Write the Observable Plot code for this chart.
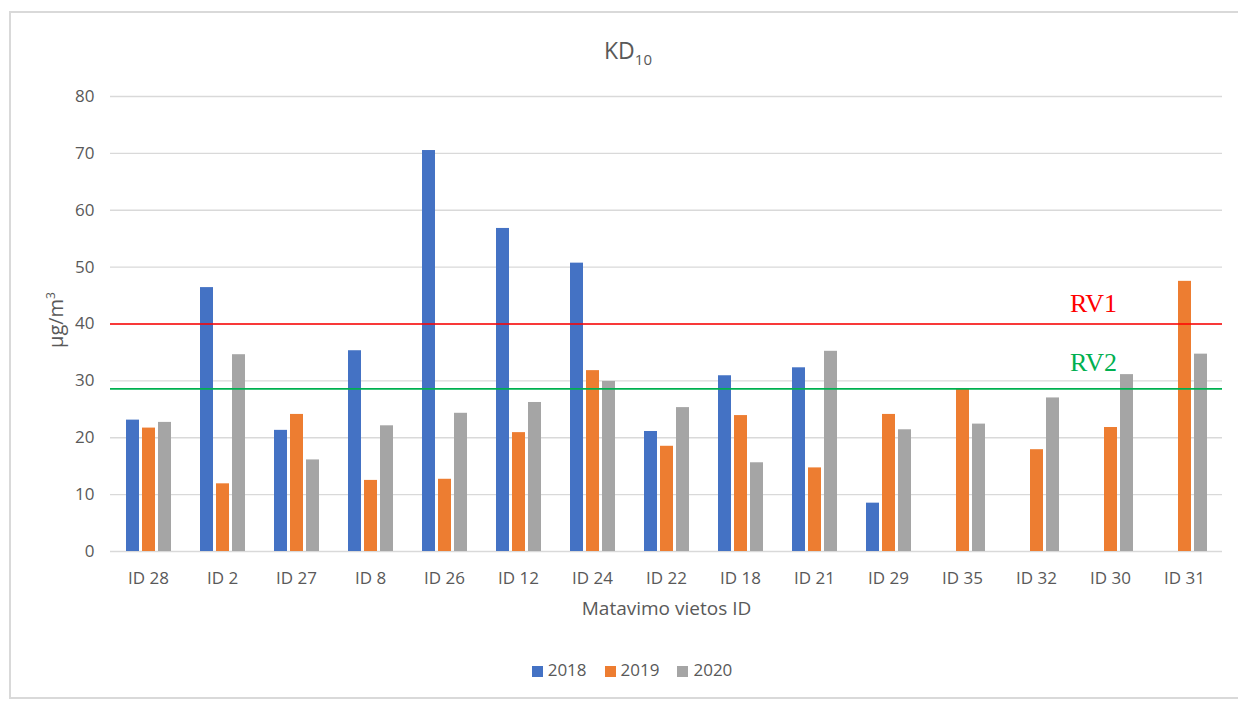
<!DOCTYPE html>
<html>
<head>
<meta charset="utf-8">
<script src="https://cdn.jsdelivr.net/npm/d3@7"></script>
<script src="https://cdn.jsdelivr.net/npm/@observablehq/plot@0.6"></script>
<style>
  html, body { margin: 0; padding: 0; background: #fff; }
  #wrap { position: relative; width: 1238px; height: 702px; overflow: hidden; font-family: "Open Sans", "Noto Sans", sans-serif; color: #595959; }
  #frame { position: absolute; left: 9px; top: 11px; width: 1260px; height: 688px; border: 2px solid #d9d9d9; box-sizing: border-box; }
  #title { position: absolute; left: 0; width: 1256px; top: 34px; text-align: center; font-size: 23px; color: #595959; }
  #title sub { font-size: 15px; }
  #ylabel { position: absolute; left: 55px; top: 320px; transform: translate(-50%, -50%) rotate(-90deg); font-size: 20px; color: #595959; white-space: nowrap; }
  #ylabel sup { font-size: 12px; }
  .layer { position: absolute; left: 0; top: 0; }
  #legend { position: absolute; top: 658px; left: 0; width: 1264px; text-align: center; font-size: 17px; color: #595959; }
  #legend span.item { margin: 0 9px; }
  #legend span.sw { display: inline-block; width: 11px; height: 11px; margin-right: 5px; vertical-align: -1px; }
</style>
</head>
<body>
<div id="wrap">
  <div id="frame"></div>
  <div id="under" class="layer"></div>
  <div id="bars" class="layer"></div>
  <div id="over" class="layer"></div>
  <div id="title">KD<sub>10</sub></div>
  <div id="ylabel">µg/m<sup>3</sup></div>
  <div id="legend"></div>
</div>
<script>
const sites = ["ID 28","ID 2","ID 27","ID 8","ID 26","ID 12","ID 24","ID 22","ID 18","ID 21","ID 29","ID 35","ID 32","ID 30","ID 31"];
const years = ["2018","2019","2020"];
const colors = ["#4472c4","#ed7d31","#a5a5a5"];
const v2018 = [23.1, 46.4, 21.3, 35.3, 70.5, 56.8, 50.7, 21.1, 30.9, 32.3, 8.5, null, null, null, null];
const v2019 = [21.7, 11.9, 24.1, 12.5, 12.7, 20.9, 31.8, 18.5, 23.9, 14.7, 24.1, 28.5, 17.9, 21.8, 47.5];
const v2020 = [22.7, 34.6, 16.1, 22.1, 24.3, 26.2, 29.9, 25.3, 15.6, 35.2, 21.4, 22.4, 27.0, 31.1, 34.7];
const yTicks = [0,10,20,30,40,50,60,70,80];
const limitNames = ["RV1", "RV2"];
const limitValues = [40, 28.6];
const limitColors = ["#ff0000", "#00b050"];

const series = [v2018, v2019, v2020];
const data = [];
sites.forEach((s, i) => years.forEach((y, j) => {
  const v = series[j][i];
  if (v != null) data.push({site: s, year: y, value: v});
}));
const limits = limitNames.map((n, i) => ({name: n, value: limitValues[i], color: limitColors[i]}));

const common = {
  width: 1238,
  height: 640,
  marginLeft: 110,
  marginRight: 16,
  marginTop: 96,
  marginBottom: 89,
  style: {fontFamily: "'Open Sans', 'Noto Sans', sans-serif", fontSize: "14px", color: "#595959", background: "transparent"},
  y: {domain: [0, 80], ticks: yTicks, label: null, axis: null}
};
const xBand = {domain: sites, paddingInner: 0.38, paddingOuter: 0.19, label: null, axis: null};

// Underlay: gridlines, axes, x axis title
const under = Plot.plot({
  ...common,
  x: xBand,
  marks: [
    Plot.ruleY(yTicks, {stroke: "#d9d9d9", strokeWidth: 1.3}),
    Plot.axisY({ticks: yTicks, tickSize: 0, tickPadding: 16, fontSize: 17, fill: "#595959", label: null}),
    Plot.axisX({tickSize: 0, tickPadding: 20, fontSize: 17, fill: "#595959", label: null}),
    Plot.text(["Matavimo vietos ID"], {text: d => d, frameAnchor: "bottom", dy: 63, fontSize: 19, fill: "#595959"})
  ]
});
document.getElementById("under").appendChild(under);

// Bars: grouped with fx facets
const bars = Plot.plot({
  ...common,
  fx: xBand,
  x: {domain: years, paddingInner: 0.2, paddingOuter: 0, axis: null},
  color: {domain: years, range: colors},
  marks: [
    Plot.barY(data, {fx: "site", x: "year", y: "value", fill: "year"})
  ]
});
document.getElementById("bars").appendChild(bars);

// Overlay: limit lines and labels
const labelFont = "'Liberation Serif', 'DejaVu Serif', serif";
const over = Plot.plot({
  ...common,
  x: xBand,
  marks: [
    Plot.ruleY(limits, {y: "value", stroke: "color", strokeWidth: 1.6}),
    Plot.text(limits.filter(d => d.name === "RV1"), {y: "value", text: "name", fill: "color", frameAnchor: "right", textAnchor: "middle", dx: -129, dy: -20, fontSize: 26, fontFamily: labelFont}),
    Plot.text(limits.filter(d => d.name === "RV2"), {y: "value", text: "name", fill: "color", frameAnchor: "right", textAnchor: "middle", dx: -129, dy: -26, fontSize: 26, fontFamily: labelFont})
  ]
});
document.getElementById("over").appendChild(over);

const legend = document.getElementById("legend");
years.forEach((y, j) => {
  const item = document.createElement("span");
  item.className = "item";
  const sw = document.createElement("span");
  sw.className = "sw";
  sw.style.background = colors[j];
  item.appendChild(sw);
  item.appendChild(document.createTextNode(y));
  legend.appendChild(item);
});
</script>
</body>
</html>
